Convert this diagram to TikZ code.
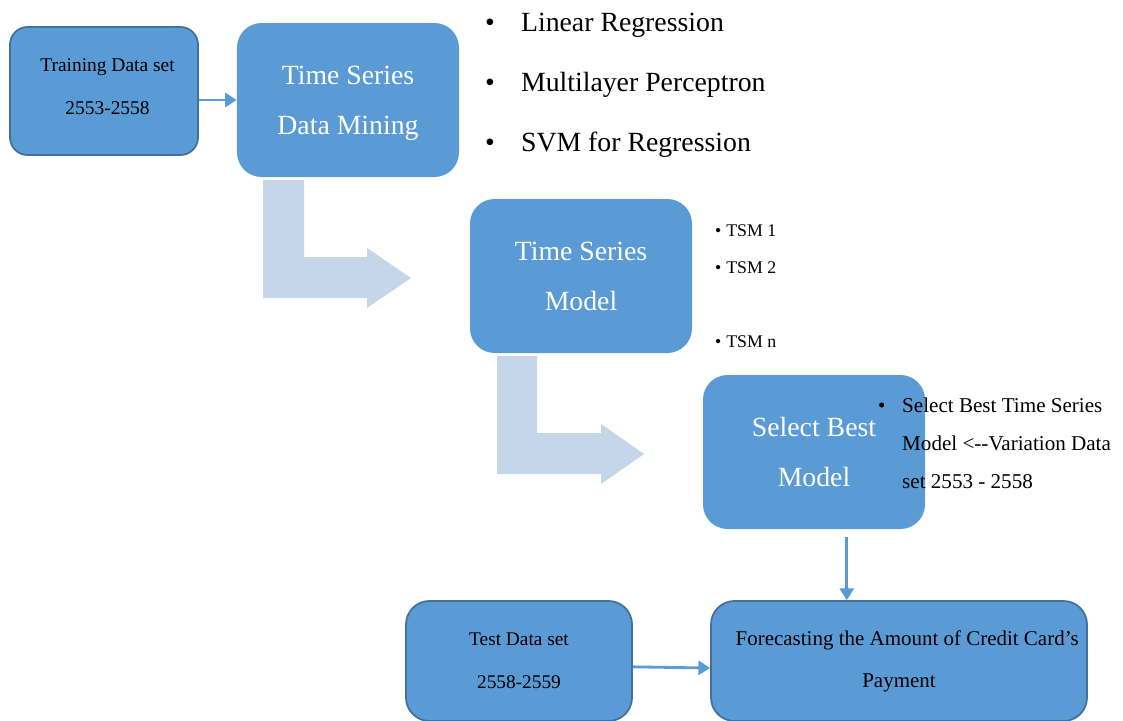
\documentclass[tikz,border=0pt]{standalone}
\usepackage{fontspec}
\setmainfont{Liberation Serif}
\usepackage{xcolor}
\usepackage{tikz}
\usetikzlibrary{arrows.meta}

\definecolor{boxblue}{HTML}{5B9BD5}
\definecolor{edgeblue}{HTML}{41719C}
\definecolor{shadeblue}{HTML}{C5D6EB}

% two lines with fixed height above and depth below
\newcommand{\stagetext}[2]{\rule{0pt}{24pt}#1\\#2\rule[-7.8pt]{0pt}{7.8pt}}

\tikzset{
  stage/.style={fill=boxblue, rounded corners=21pt, inner sep=0pt, align=center, text=white,
    minimum width=6.66cm, minimum height=4.62cm, font=\fontsize{23.7}{43.5}\selectfont},
  datastage/.style={fill=boxblue, draw=edgeblue, line width=1.5pt, rounded corners=20pt,
    inner sep=0pt, align=center},
  item/.style={anchor=base west, inner sep=0pt},
  flow/.style={-{Triangle[length=10pt,width=12pt]}, draw=boxblue, line width=2.4pt},
  bentarrow/.style={fill=shadeblue}
}

\begin{document}
\begin{tikzpicture}[x=0.03cm, y=-0.03cm]
		\clip (0,0) rectangle (1123,720);
		% light bent arrows
		\fill[bentarrow] (263,180) -- (304,180) -- (304,257) -- (367,257) -- (367,248) -- (411,278) -- (367,308) -- (367,298) -- (263,298) -- cycle;
		\fill[bentarrow] (497,356) -- (537,356) -- (537,433) -- (601,433) -- (601,424) -- (644,454) -- (601,484) -- (601,474) -- (497,474) -- cycle;
		% boxes
		\node[datastage, rounded corners=15pt, minimum width=5.64cm, minimum height=3.84cm, font=\fontsize{16.6}{35.9}\selectfont] (train) at (104,91) {\rule{0pt}{14pt}\hspace{6pt}Training Data set\\\hspace{6pt}2553-2558\rule[-10.6pt]{0pt}{10.6pt}};
		\node[stage] (mining) at (348,100) {\stagetext{Time Series}{Data Mining}};
		\node[stage] (tsm) at (581,276) {\stagetext{Time Series}{Model}};
		\node[stage] (sbm) at (814,452) {\stagetext{Select Best}{Model}};
		\node[datastage, minimum width=6.78cm, minimum height=3.6cm, font=\fontsize{16.5}{36.7}\selectfont] (test) at (519,661) {Test Data set\\2558-2559};
		\node[datastage, minimum width=11.28cm, minimum height=3.6cm, font=\fontsize{17.9}{35.9}\selectfont] (fc) at (899,661) {\hspace{14pt}Forecasting the Amount of Credit Card’s\\Payment};
		% methods
		\node[item, font=\fontsize{23.7}{28}\selectfont] (lr) at (485,31.7) {\makebox[30.6pt][l]{\textbullet}Linear Regression};
		\node[item, font=\fontsize{23.7}{28}\selectfont] (mlp) at (485,91.7) {\makebox[30.6pt][l]{\textbullet}Multilayer Perceptron};
		\node[item, font=\fontsize{23.7}{28}\selectfont] (svm) at (485,151.7) {\makebox[30.6pt][l]{\textbullet}SVM for Regression};
		% models
		\node[item, font=\fontsize{15.2}{18}\selectfont] (m1) at (715,236) {\makebox[9.4pt][l]{\textbullet}TSM 1};
		\node[item, font=\fontsize{15.2}{18}\selectfont] (m2) at (715,273) {\makebox[9.4pt][l]{\textbullet}TSM 2};
		\node[item, font=\fontsize{15.2}{18}\selectfont] (mn) at (715,347) {\makebox[9.4pt][l]{\textbullet}TSM n};
		% selection
		\node[item, font=\fontsize{18}{22}\selectfont] (sel1) at (878,412) {\makebox[20.5pt][l]{\textbullet}Select Best Time Series};
		\node[item, font=\fontsize{18}{22}\selectfont] (sel2) at (902,450) {Model <-\kern0pt-Variation Data};
		\node[item, font=\fontsize{18}{22}\selectfont] (sel3) at (902,488) {set 2553 - 2558};
		% connectors
		\draw[flow] (train.east |- mining.west) -- (mining.west);
		\draw[flow, shorten <=7pt] ([xshift=28pt]sbm.south) -- ([xshift=28pt]sbm.south |- fc.north);
		\draw[flow] ([yshift=-5pt]test.east) -- ([yshift=-6pt]fc.west);
\end{tikzpicture}
\end{document}
